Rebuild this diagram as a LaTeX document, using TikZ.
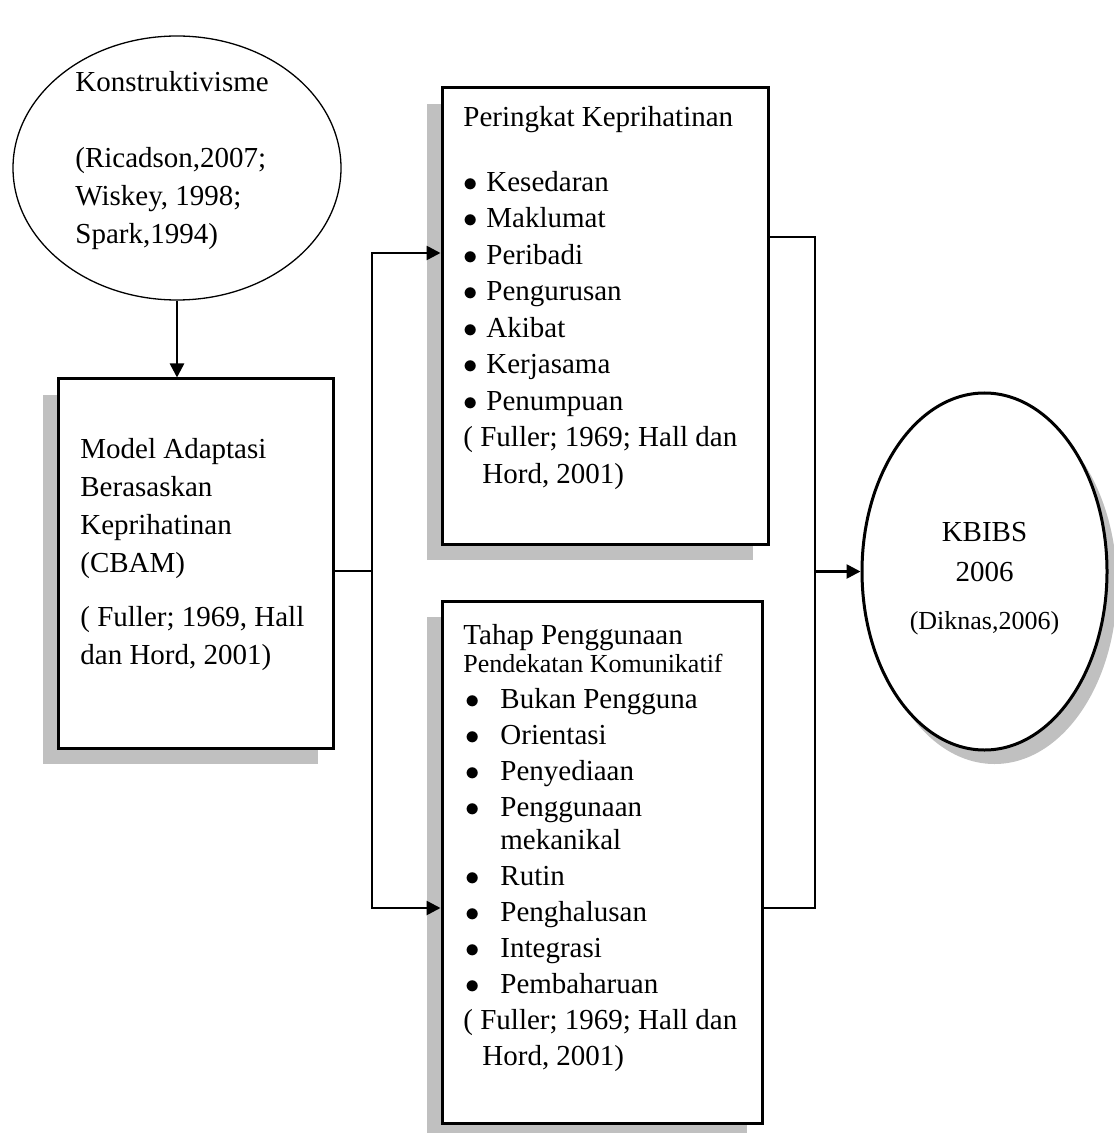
\documentclass[tikz,border=0pt]{standalone}
\usepackage{fontspec}
\setmainfont{Liberation Serif}
\usetikzlibrary{arrows.meta,calc,positioning,shadows,shapes.geometric}
\definecolor{shadowgray}{RGB}{192,192,192}
\newcommand{\dotmark}{$\bullet$}
\tikzset{
framebox/.style={
  rectangle,
  line width=1.5pt,
  inner sep=0pt,
  draw=black,
  fill=white,
  drop shadow={shadow xshift=-7.5pt, shadow yshift=-8pt, fill=shadowgray, opacity=1},
  }
}
\tikzset{
ovalnode/.style={
  ellipse,
  inner sep=0pt,
  draw=black,
  fill=white,
  }
}
\tikzset{
boxtext/.style={
  anchor=north west,
  inner sep=0pt,
  align=left,
  }
}
\tikzset{
myline/.style={
  line width=1.3pt,
  -{Triangle[length=7pt,width=7pt]}
  }
}
\tikzset{
plainline/.style={
  line width=1.3pt,
  }
}

\begin{document}
\begin{tikzpicture}[x=0.5pt,y=-0.5pt]
    \useasboundingbox (0,0) rectangle (1113,1133);

    % theory part
    \node[ovalnode, line width=0.65pt, minimum width=164pt, minimum height=132pt] (konstruk) at (177,168) {};
    \node[boxtext, font=\fontsize{14.5}{19}\selectfont] (konstruk_txt) at (75,65)
      {\strut Konstruktivisme\\[19pt](Ricadson,2007;\\Wiskey, 1998;\\Spark,1994)};

    % model part
    \node[framebox, minimum width=137.5pt, minimum height=184.5pt] (cbam) at (195.5,563.5) {};
    \node[boxtext, font=\fontsize{14.5}{19}\selectfont] (cbam_txt) at (80,431)
      {\strut Model Adaptasi\\Berasaskan\\Keprihatinan\\(CBAM)\\[8pt]( Fuller; 1969, Hall\\dan Hord, 2001)};

    % concern part
    \node[framebox, minimum width=163pt, minimum height=228pt] (peringkat) at (605,316) {};
    \node[boxtext, font=\fontsize{14.5}{18.25}\selectfont] (peringkat_txt) at (463,101)
      {\strut Peringkat Keprihatinan\\[14pt]
       \makebox[11.5pt][l]{\dotmark}Kesedaran\\
       \makebox[11.5pt][l]{\dotmark}Maklumat\\
       \makebox[11.5pt][l]{\dotmark}Peribadi\\
       \makebox[11.5pt][l]{\dotmark}Pengurusan\\
       \makebox[11.5pt][l]{\dotmark}Akibat\\
       \makebox[11.5pt][l]{\dotmark}Kerjasama\\
       \makebox[11.5pt][l]{\dotmark}Penumpuan\\
       ( Fuller; 1969; Hall dan\\
       \hspace*{9.5pt}Hord, 2001)};

    % usage part
    \node[framebox, minimum width=160pt, minimum height=261pt] (tahap) at (602,862) {};
    \node[boxtext, font=\fontsize{14.5}{18}\selectfont] (tahap_txt) at (463,619)
      {\strut Tahap Penggunaan\\[-4pt]
       {\fontsize{13}{18}\selectfont Pendekatan Komunikatif}\\
       \makebox[18.5pt][l]{\hspace*{1pt}\dotmark}Bukan Pengguna\\
       \makebox[18.5pt][l]{\hspace*{1pt}\dotmark}Orientasi\\
       \makebox[18.5pt][l]{\hspace*{1pt}\dotmark}Penyediaan\\
       \makebox[18.5pt][l]{\hspace*{1pt}\dotmark}Penggunaan\\[-1.5pt]
       \hspace*{18.5pt}mekanikal\\
       \makebox[18.5pt][l]{\hspace*{1pt}\dotmark}Rutin\\
       \makebox[18.5pt][l]{\hspace*{1pt}\dotmark}Penghalusan\\
       \makebox[18.5pt][l]{\hspace*{1pt}\dotmark}Integrasi\\
       \makebox[18.5pt][l]{\hspace*{1pt}\dotmark}Pembaharuan\\
       ( Fuller; 1969; Hall dan\\
       \hspace*{9.5pt}Hord, 2001)};

    % curriculum part
    \node[ovalnode, line width=1.5pt, minimum width=122.5pt, minimum height=178.5pt, align=center,
      font=\fontsize{14.5}{20}\selectfont,
      drop shadow={shadow xshift=5pt, shadow yshift=-7pt, fill=shadowgray, opacity=1}] (kbibs) at (984.5,571.5)
      {\rule{0pt}{16.6pt}KBIBS\\2006\\[4pt]{\fontsize{13}{20}\selectfont (Diknas,2006)}};

    % joints
    \coordinate (split) at (372,571);
    \coordinate (split_up) at (372,253);
    \coordinate (split_dn) at (372,908);
    \coordinate (merge_up) at (815,237);
    \coordinate (merge_dn) at (815,908);
    \coordinate (merge) at (merge_up |- kbibs.west);

    % edges
    \draw[myline] (konstruk.south) -- (konstruk.south |- cbam.north);
    \draw[plainline] (cbam.east |- split) -- (split);
    \draw[myline] (split) -- (split_up) -- (split_up -| peringkat.west);
    \draw[myline] (split) -- (split_dn) -- (split_dn -| tahap.west);
    \draw[plainline] (peringkat.east |- merge_up) -- (merge_up) -- (merge_dn) -- (tahap.east |- merge_dn);
    \draw[myline] (merge) -- (kbibs.west);
\end{tikzpicture}
\end{document}
